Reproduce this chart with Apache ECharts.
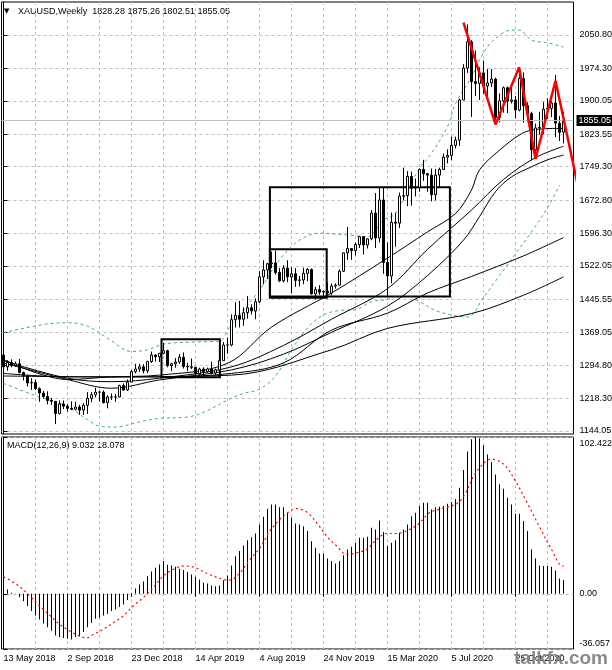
<!DOCTYPE html>
<html><head><meta charset="utf-8">
<script src="https://cdn.jsdelivr.net/npm/echarts@6/dist/echarts.min.js"></script>
<style>html,body{margin:0;padding:0;background:#fff}#c{width:612px;height:670px}</style>
</head><body><div id="c"></div>
<script>
const dates = ['13 May 2018','20 May 2018','27 May 2018','3 Jun 2018','10 Jun 2018','17 Jun 2018','24 Jun 2018','1 Jul 2018','8 Jul 2018','15 Jul 2018','22 Jul 2018','29 Jul 2018','5 Aug 2018','12 Aug 2018','19 Aug 2018','26 Aug 2018','2 Sep 2018','9 Sep 2018','16 Sep 2018','23 Sep 2018','30 Sep 2018','7 Oct 2018','14 Oct 2018','21 Oct 2018','28 Oct 2018','4 Nov 2018','11 Nov 2018','18 Nov 2018','25 Nov 2018','2 Dec 2018','9 Dec 2018','16 Dec 2018','23 Dec 2018','30 Dec 2018',
'6 Jan 2019','13 Jan 2019','20 Jan 2019','27 Jan 2019','3 Feb 2019','10 Feb 2019','17 Feb 2019','24 Feb 2019','3 Mar 2019','10 Mar 2019','17 Mar 2019','24 Mar 2019','31 Mar 2019','7 Apr 2019','14 Apr 2019','21 Apr 2019','28 Apr 2019','5 May 2019','12 May 2019','19 May 2019','26 May 2019','2 Jun 2019','9 Jun 2019','16 Jun 2019','23 Jun 2019','30 Jun 2019','7 Jul 2019','14 Jul 2019','21 Jul 2019','28 Jul 2019','4 Aug 2019','11 Aug 2019','18 Aug 2019','25 Aug 2019','1 Sep 2019','8 Sep 2019','15 Sep 2019','22 Sep 2019','29 Sep 2019','6 Oct 2019','13 Oct 2019','20 Oct 2019','27 Oct 2019','3 Nov 2019','10 Nov 2019','17 Nov 2019','24 Nov 2019','1 Dec 2019','8 Dec 2019','15 Dec 2019','22 Dec 2019','29 Dec 2019',
'5 Jan 2020','12 Jan 2020','19 Jan 2020','26 Jan 2020','2 Feb 2020','9 Feb 2020','16 Feb 2020','23 Feb 2020','1 Mar 2020','8 Mar 2020','15 Mar 2020','22 Mar 2020','29 Mar 2020','5 Apr 2020','12 Apr 2020','19 Apr 2020','26 Apr 2020','3 May 2020','10 May 2020','17 May 2020','24 May 2020','31 May 2020','7 Jun 2020','14 Jun 2020','21 Jun 2020','28 Jun 2020','5 Jul 2020','12 Jul 2020','19 Jul 2020','26 Jul 2020','2 Aug 2020','9 Aug 2020','16 Aug 2020','23 Aug 2020','30 Aug 2020','6 Sep 2020','13 Sep 2020','20 Sep 2020','27 Sep 2020','4 Oct 2020','11 Oct 2020','18 Oct 2020','25 Oct 2020','1 Nov 2020','8 Nov 2020','15 Nov 2020','22 Nov 2020','29 Nov 2020','6 Dec 2020','13 Dec 2020','20 Dec 2020','27 Dec 2020',
'3 Jan 2021','10 Jan 2021','17 Jan 2021'];

// weekly candles: [open, high, low, close]
const candles = [
[1318,1322,1285,1291],[1291,1306,1282,1301],[1301,1308,1290,1294],[1294,1303,1291,1298],[1298,1309,1276,1278],[1278,1280,1260,1270],[1270,1272,1246,1254],[1254,1265,1238,1255],[1255,1262,1238,1241],[1241,1244,1211,1231],
[1231,1236,1219,1223],[1223,1235,1205,1214],[1214,1220,1204,1212],[1212,1212,1160,1184],[1184,1214,1182,1206],[1206,1214,1194,1201],[1201,1206,1189,1196],[1196,1212,1192,1194],[1194,1211,1191,1199],[1199,1204,1181,1192],
[1192,1208,1181,1203],[1203,1233,1183,1219],[1219,1233,1210,1227],[1227,1243,1221,1233],[1233,1237,1211,1233],[1233,1237,1207,1209],[1209,1226,1196,1222],[1222,1230,1215,1222],[1222,1229,1211,1222],[1222,1250,1221,1248],
[1248,1253,1236,1238],[1238,1262,1236,1256],[1256,1284,1256,1280],[1280,1298,1276,1286],[1286,1298,1279,1291],[1291,1297,1276,1282],[1282,1305,1277,1303],[1303,1326,1300,1318],[1318,1320,1303,1314],[1314,1322,1302,1322],
[1322,1346,1320,1328],[1328,1330,1290,1294],[1294,1300,1281,1298],[1298,1311,1289,1302],[1302,1320,1298,1313],[1313,1324,1287,1292],[1292,1300,1281,1291],[1291,1310,1286,1290],[1290,1291,1270,1275],[1275,1289,1266,1286],
[1286,1290,1266,1280],[1280,1289,1278,1286],[1286,1303,1274,1277],[1277,1287,1273,1284],[1284,1306,1276,1305],[1305,1348,1305,1341],[1341,1358,1321,1341],[1341,1411,1338,1399],[1399,1439,1381,1409],[1409,1442,1381,1400],
[1400,1427,1385,1415],[1415,1453,1401,1426],[1426,1434,1411,1419],[1419,1448,1400,1440],[1440,1510,1437,1497],[1497,1535,1480,1513],[1513,1529,1492,1527],[1527,1555,1517,1529],[1529,1557,1502,1507],[1507,1517,1485,1488],
[1488,1524,1484,1517],[1517,1535,1485,1497],[1497,1519,1459,1504],[1504,1517,1474,1489],[1489,1499,1475,1490],[1490,1518,1480,1505],[1505,1517,1487,1514],[1514,1516,1456,1458],[1458,1474,1445,1468],[1468,1478,1456,1462],
[1462,1466,1452,1464],[1464,1484,1458,1460],[1460,1482,1455,1476],[1476,1482,1470,1478],[1478,1514,1478,1510],[1510,1553,1508,1552],[1552,1611,1536,1562],[1562,1563,1536,1557],[1557,1576,1546,1571],[1571,1591,1563,1589],
[1589,1590,1548,1570],[1570,1585,1562,1584],[1584,1650,1581,1643],[1643,1689,1563,1586],[1586,1703,1576,1673],[1673,1703,1504,1530],[1530,1576,1451,1499],[1499,1644,1482,1622],[1622,1644,1566,1620],[1620,1690,1609,1682],
[1682,1747,1672,1683],[1683,1739,1659,1727],[1727,1738,1660,1700],[1700,1722,1681,1702],[1702,1745,1692,1743],[1743,1765,1717,1733],[1733,1735,1692,1730],[1730,1745,1670,1685],[1685,1744,1672,1730],[1730,1747,1703,1743],
[1743,1779,1742,1771],[1771,1789,1757,1775],[1775,1818,1764,1798],[1798,1818,1791,1810],[1810,1905,1797,1902],[1902,1984,1902,1975],[1975,2075,1964,2035],[2035,2039,1863,1944],[1944,2015,1911,1940],[1940,1977,1902,1964],
[1964,1992,1916,1934],[1934,1973,1906,1941],[1941,1973,1932,1950],[1950,1953,1848,1862],[1862,1917,1851,1900],[1900,1933,1873,1930],[1930,1933,1872,1899],[1899,1932,1894,1902],[1902,1911,1860,1879],[1879,1965,1876,1951],
[1951,1965,1850,1889],[1889,1897,1853,1871],[1871,1875,1764,1788],[1788,1848,1775,1838],[1838,1875,1822,1839],[1839,1897,1824,1881],[1881,1906,1859,1883],[1883,1900,1863,1895],[1895,1959,1817,1849],[1849,1865,1808,1828],
[1828.28,1875.26,1802.51,1855.05]];

// indicator lines: [bar index, price]
const ma1 = [[0,1308],[16,1262],[27,1268],[39,1272],[56,1299],[67,1382],[82,1460],[96,1540],[106,1600],[113,1642],[117,1696],[119,1742],[124,1787],[129,1822],[132,1833],[139,1837],[140,1837]];
const ma2 = [[0,1305],[16,1265],[27,1257],[39,1265],[57,1291],[70,1340],[82,1400],[96,1470],[106,1560],[117,1650],[125,1720],[133,1770],[140,1796]];
const ma3 = [[0,1300],[16,1262],[27,1242],[39,1261],[57,1284],[70,1320],[82,1370],[96,1430],[106,1500],[115,1581],[119,1635],[123,1692],[127,1726],[132,1749],[136,1765],[140,1776]];
const ma4 = [[0,1276],[16,1268],[27,1268],[39,1268],[57,1276],[70,1300],[82,1375],[96,1414],[106,1460],[117,1498],[130,1545],[140,1587]];
const ma5 = [[0,1270],[27,1268],[57,1272],[82,1330],[96,1379],[117,1413],[130,1455],[140,1497]];
const bbUpper = [[0,1369],[10,1388],[16,1392],[21,1384],[26.6,1353],[32,1326],[36,1330],[40,1343],[48,1348],[54,1350],[56.6,1383],[64,1467],[69,1536],[74,1581],[79,1597],[86,1593],[91,1589],[95,1627],[98,1642],[101,1696],[104,1745],[107,1780],[111,1841],[113,1894],[117,1955],[120,2010],[123,2043],[127,2062],[129,2062],[132,2039],[136,2033],[140,2023]];
const bbLower = [[0,1253],[7.4,1227],[16,1200],[21,1170],[24,1155],[28,1153],[34,1165],[39,1173],[46,1176],[51,1191],[56,1215],[60,1230],[64,1240],[68,1270],[72,1330],[76,1380],[80,1410],[84,1420],[88,1422],[92,1440],[96,1445],[100,1455],[104,1440],[108,1420],[112,1410],[116,1405],[120,1450],[124,1500],[128,1550],[132,1600],[136,1655],[139,1707]];

// drawn objects
const zigzag = [[115,2079],[123,1846],[128.9,1977],[133,1767],[138,1946],[144.3,1675]];
const boxes = [[39.5,1354,54.1,1267],[66.6,1560,80.8,1449],[66.6,1702,111.6,1452]];

// MACD(12,26,9)
const macd = [5.0,2.8,0.7,0.2,-2.2,-4.8,-8,-11.3,-14.2,-16.8,-19.4,-21.8,-24.2,-27.2,-28.3,-28.8,-29.4,-29.8,-28.3,-27.7,
-25,-21.8,-19,-16.3,-15.7,-14.2,-13.1,-11.3,-10.2,-8.7,-7,-4.1,0.5,3.5,6.1,8.1,11.5,14.6,17,19.2,
21.4,19,18.5,17.6,16.3,15.5,14.2,12.6,11.1,9.4,7.2,6.8,5.4,5.0,5.4,8.9,12,18.5,24.6,27.9,
31.6,34.9,37,39.4,45.3,50.3,55.6,58.4,58.4,56.6,56.6,52.9,49.7,46,45.3,44.2,41,34.4,30.1,26.4,
26.1,23.1,21.4,19.8,21.4,25.1,29,30.7,33.3,36.6,36.6,37.3,43.1,42,47.9,40.3,31.2,33.3,34.9,39.9,
42,45.3,50.7,52.9,57.3,59.5,59.5,55,56.5,56.9,57.3,58.8,59.9,62,69.3,80.8,93,101,102.422,101.5,
97,91,86,78,71.5,68.6,62.7,58.4,52.3,52.3,47.5,41,29,23.1,18.5,18.1,18.1,17.6,15.2,10,9.032];
const signal = [[0,11.1],[1.6,8.9],[4.1,4.6],[6.6,-1.5],[9.1,-8],[11.6,-14.2],[14.1,-20],[16.6,-24.4],[19.1,-27.7],[20.8,-28.8],[22.4,-26.6],[24.9,-23.3],[27.4,-19],[29.9,-14.6],[32.4,-8],[34.9,-2.6],[37.4,3.9],[39.9,11.5],[42.4,15.9],[44.9,18.1],[47.4,17.6],[50,14.4],[52.5,11.5],[55,9.4],[56.6,8.9],[59.1,13.7],[61.6,22.4],[64.1,30],[66.6,41],[69.1,48.6],[71.6,54],[73.3,55.6],[75.8,53.4],[78.3,46.4],[80.8,37.7],[83.3,31.2],[85.8,25.7],[88.3,26.8],[90.8,29],[93.3,35.5],[95.8,39.4],[98.3,39.4],[100.7,41],[103.6,45.3],[106.5,52.9],[109.5,55.6],[113.4,59],[115.3,64.9],[117.8,78],[120.2,85.6],[122,88],[125.1,84.5],[128,73.6],[130.9,59.5],[133.9,44.2],[136.8,30],[139.7,18.1],[140,18.078]];

const priceTicks = [2050.80,1974.30,1900.05,1823.55,1749.30,1672.80,1596.30,1522.05,1445.55,1369.05,1294.80,1218.30,1144.05];
const macdTicks = [-36.057,0,102.422];
const macdTickText = ['-36.057','0.00','102.422'];
const lastPrice = 1855.05;
const headerText = 'XAUUSD,Weekly  1828.28 1875.26 1802.51 1855.05';
const macdText = 'MACD(12,26,9) 9.032 18.078';

const FONT = '"Liberation Sans", Arial, sans-serif';
const cats = dates.concat(['', '']);
const gridIdx = [];
for (let i = 0; i < cats.length; i += 8) gridIdx.push(i);
const gridStyle = {color:'#c0c0c0', type:[3,3], width:1};
const labelEvery = (i) => i % 16 === 0 && i < dates.length;

const chart = echarts.init(document.getElementById('c'));
const valX = (gi) => ({type:'value', gridIndex:gi, min:-0.5, max:cats.length-0.5, axisLine:{show:false},
  axisTick:{show:false, customValues:gridIdx}, axisLabel:{show:false}, splitLine:{show:true, lineStyle:gridStyle}});
const lineS = (data, color, dashed) => ({type:'line', xAxisIndex:1, yAxisIndex:0, data, smooth:0.35, symbol:'none', silent:true,
  lineStyle:{color, width:1, type: dashed ? [3,3] : 'solid'}, z:3});

chart.setOption({
  animation:false,
  backgroundColor:'#fff',
  grid:[
    {left:1.5, width:572, top:2, height:432, show:true, borderColor:'#000', borderWidth:1, outerBoundsMode:'none'},
    {left:1.5, width:572, top:437, height:212, show:true, borderColor:'#000', borderWidth:1, outerBoundsMode:'none'}
  ],
  xAxis:[
    {type:'category', gridIndex:0, data:cats, axisLine:{show:false}, axisTick:{show:false}, axisLabel:{show:false}, splitLine:{show:false}},
    valX(0),
    {type:'category', gridIndex:1, data:cats, axisLine:{show:false},
      axisTick:{show:true, alignWithLabel:true, interval:labelEvery, length:3, lineStyle:{color:'#000'}},
      axisLabel:{interval:labelEvery, align:'left', margin:5, fontSize:9, color:'#000', fontFamily:FONT, hideOverlap:false}, splitLine:{show:false}},
    valX(1)
  ],
  yAxis:[
    {type:'value', gridIndex:0, position:'right', min:1137.2, max:2126.36,
      axisLine:{show:true, lineStyle:{color:'#000'}},
      axisTick:{show:true, customValues:priceTicks, length:4, lineStyle:{color:'#000'}},
      axisLabel:{customValues:priceTicks, formatter:(v)=>v.toFixed(2), margin:6, fontSize:9, color:'#000', fontFamily:FONT, hideOverlap:false},
      splitLine:{show:true, lineStyle:gridStyle}},
    {type:'value', gridIndex:1, position:'right', min:-36.057, max:102.422,
      axisLine:{show:true, lineStyle:{color:'#000'}},
      axisTick:{show:true, customValues:macdTicks, length:4, lineStyle:{color:'#000'}},
      axisLabel:{customValues:macdTicks, margin:6, fontSize:9, color:'#000', fontFamily:FONT, hideOverlap:false,
        formatter:(v)=>{ let k=0; macdTicks.forEach((t,j)=>{ if (Math.abs(t-v)<Math.abs(macdTicks[k]-v)) k=j; });
          const s = macdTickText[k]; return k===2 ? '{t|'+s+'}' : (k===0 ? '{b|'+s+'}' : s); },
        rich:{t:{padding:[13,0,0,0], fontSize:9, fontFamily:FONT, color:'#000'}, b:{padding:[0,0,10,0], fontSize:9, fontFamily:FONT, color:'#000'}}},
      splitLine:{show:true, lineStyle:gridStyle}}
  ],
  series:[
    lineS(bbUpper, '#3cb371', true),
    lineS(bbLower, '#3cb371', true),
    lineS(ma5, '#000', false),
    lineS(ma4, '#000', false),
    lineS(ma3, '#000', false),
    lineS(ma2, '#000', false),
    lineS(ma1, '#000', false),
    {type:'candlestick', xAxisIndex:0, yAxisIndex:0, barWidth:2, silent:true, z:4,
      data: candles.map(c => [c[0], c[3], c[2], c[1]]),
      itemStyle:{color:'#fff', color0:'#000', borderColor:'#000', borderColor0:'#000', borderWidth:1},
      markLine:{silent:true, symbol:'none', animation:false, data:[{yAxis:lastPrice}],
        lineStyle:{color:'#c0c0c0', type:'solid', width:1},
        label:{position:'end', distance:3, formatter:()=>lastPrice.toFixed(2), color:'#fff', backgroundColor:'#000',
          padding:[1,3,1,2], fontSize:9, fontFamily:FONT}}},
    {type:'line', xAxisIndex:1, yAxisIndex:0, data:zigzag, symbol:'none', clip:false, silent:true, z:6,
      lineStyle:{color:'#ff0000', width:2.5},
      markArea:{silent:true, itemStyle:{color:'rgba(0,0,0,0)', borderColor:'#000', borderWidth:2},
        data: boxes.map(b => [{coord:[b[0], b[1]]}, {coord:[b[2], b[3]]}])}},
    {type:'bar', xAxisIndex:2, yAxisIndex:1, data:macd, barWidth:1, silent:true, itemStyle:{color:'#000'}, z:3},
    {type:'line', xAxisIndex:3, yAxisIndex:1, data:signal, smooth:0.35, symbol:'none', silent:true, z:4,
      lineStyle:{color:'#ff0000', width:1.2, type:[2,3]}}
  ],
  graphic:[
    {type:'text', left:4, top:8, style:{text:'▼', font:'7px "DejaVu Sans"', fill:'#000'}},
    {type:'text', left:18, top:7, style:{text:headerText, font:'9px ' + FONT, fill:'#000'}},
    {type:'text', left:7, top:441, style:{text:macdText, font:'9px ' + FONT, fill:'#000'}},
    {type:'text', left:514, top:649, z:100, style:{text:'talkfx.com', font:'bold 19px ' + FONT, fill:'rgba(128,128,128,0.92)'}}
  ]
});
</script></body></html>
